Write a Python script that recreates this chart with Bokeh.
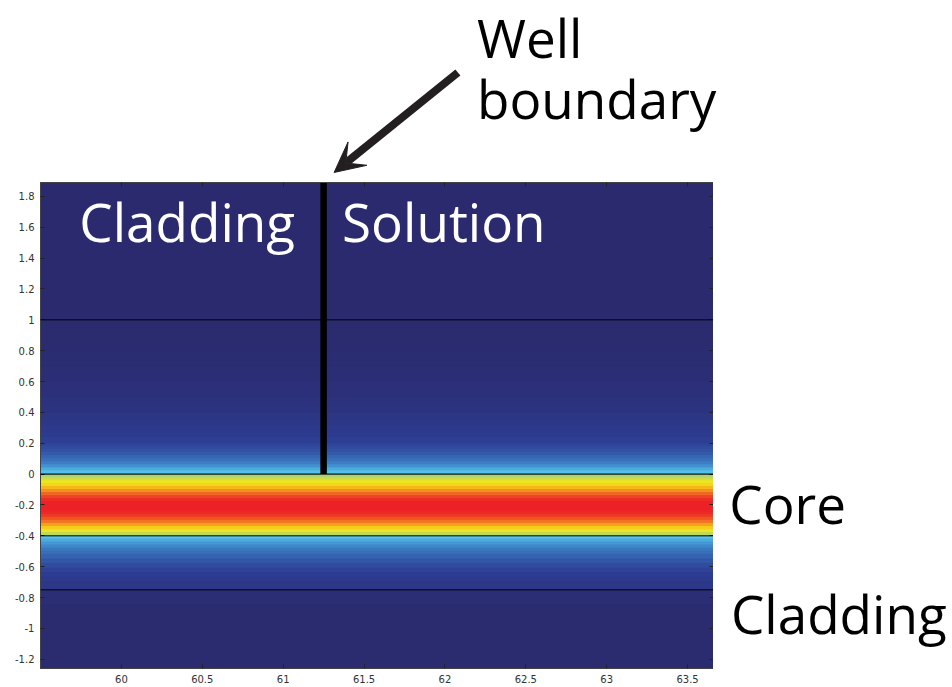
import numpy as np
from bokeh.plotting import figure
from bokeh.layouts import column, row
from bokeh.models import (Label, Arrow, VeeHead, LinearAxis, FixedTicker,
                          LinearColorMapper, ColumnDataSource, Range1d, Span)
from bokeh.transform import transform
from bokeh.embed import file_html
from bokeh.resources import INLINE

# Simulation window (um)
x_extent = [59.5, 63.66]
y_extent = [-1.26, 1.89]

# Layer interfaces: cladding/solution top, core top, core bottom, cladding bottom
interfaces = [1.0, 0.0, -0.4, -0.75]
well_x = 61.25

# Normalised mode intensity, one value per horizontal band between y_edges
y_edges = [1.89, 1.0, 0.8, 0.7, 0.6, 0.5, 0.44, 0.40, 0.36, 0.32, 0.28, 0.24,
           0.20, 0.18, 0.16, 0.14, 0.12, 0.10, 0.08, 0.06, 0.04, 0.02, 0.0,
           -0.02, -0.04, -0.06, -0.08, -0.10, -0.12, -0.14, -0.16, -0.18, -0.20,
           -0.22, -0.24, -0.26, -0.28, -0.30, -0.32, -0.34, -0.36, -0.38, -0.40,
           -0.42, -0.44, -0.46, -0.48, -0.50, -0.52, -0.55, -0.58, -0.61, -0.64,
           -0.67, -0.70, -0.75, -0.85, -1.26]
intensity = [0.0, 0.01, 0.02, 0.03, 0.045, 0.06, 0.07, 0.08, 0.09, 0.105, 0.12,
             0.14, 0.16, 0.175, 0.19, 0.21, 0.235, 0.26, 0.29, 0.33, 0.38, 0.42,
             0.55, 0.62, 0.69, 0.75, 0.81, 0.87, 0.92, 0.96, 0.985, 1.0,
             1.0, 1.0, 0.99, 0.97, 0.94, 0.90, 0.85, 0.77, 0.68, 0.60,
             0.43, 0.38, 0.34, 0.31, 0.28, 0.255, 0.23, 0.20, 0.175, 0.15,
             0.13, 0.11, 0.09, 0.03, 0.01]

x_ticks = [60, 60.5, 61, 61.5, 62, 62.5, 63, 63.5]
x_tick_labels = ["60", "60.5", "61", "61.5", "62", "62.5", "63", "63.5"]
y_ticks = [-1.2, -1.0, -0.8, -0.6, -0.4, -0.2, 0.0, 0.2, 0.4, 0.6, 0.8,
           1.0, 1.2, 1.4, 1.6, 1.8]
y_tick_labels = ["-1.2", "-1", "-0.8", "-0.6", "-0.4", "-0.2", "0", "0.2",
                 "0.4", "0.6", "0.8", "1", "1.2", "1.4", "1.6", "1.8"]

# Jet-like colour scale, print tones
anchors = ["#2b2a6e", "#2e3f95", "#3b7cc2", "#55c5ee", "#b3d568",
           "#f6eb16", "#f59d1e", "#ec2227"]

# Page geometry (pixels)
W, H = 952, 687
LEFT, RIGHT, TOP, BOTTOM = 40, 239, 182, 19
frame_w = W - LEFT - RIGHT
frame_h = H - TOP - BOTTOM
ux = frame_w / (x_extent[1] - x_extent[0])   # px per um, horizontal
uy = frame_h / (y_extent[1] - y_extent[0])   # px per um, vertical


def build_palette(hexes, n=256):
    rgb = np.array([[int(h[i:i + 2], 16) for i in (1, 3, 5)] for h in hexes], float)
    pos = np.linspace(0, 1, len(hexes))
    t = np.linspace(0, 1, n)
    chans = [np.interp(t, pos, rgb[:, k]) for k in range(3)]
    return ["#%02x%02x%02x" % tuple(int(round(c[i])) for c in chans) for i in range(n)]


mapper = LinearColorMapper(palette=build_palette(anchors), low=0.0, high=1.0)

bands = ColumnDataSource(dict(
    left=[x_extent[0]] * len(intensity),
    right=[x_extent[1]] * len(intensity),
    top=y_edges[:-1],
    bottom=y_edges[1:],
    field=intensity,
))

# --- main field plot -------------------------------------------------------
p = figure(width=LEFT + frame_w, height=frame_h + BOTTOM,
           output_backend="svg", toolbar_location=None,
           x_range=Range1d(*x_extent), y_range=Range1d(*y_extent),
           min_border=0, min_border_left=LEFT, min_border_bottom=BOTTOM,
           background_fill_color="#2b2a6e", border_fill_color="white",
           outline_line_color="#333333")
p.grid.visible = False

p.quad(left="left", right="right", top="top", bottom="bottom", source=bands,
       fill_color=transform("field", mapper),
       line_color=transform("field", mapper), line_width=1)

for yi in interfaces:
    p.add_layout(Span(location=yi, dimension="width", line_color="black",
                      line_alpha=0.65, line_width=1.6))

p.segment(x0=[well_x], y0=[interfaces[1]], x1=[well_x], y1=[y_extent[1]],
          line_color="black", line_width=6.5)


def style_axis(ax, labels):
    ax.major_tick_in = 4
    ax.major_tick_out = 0
    ax.minor_tick_in = 0
    ax.minor_tick_out = 0
    ax.axis_line_color = "#444444"
    ax.major_tick_line_color = "#222222"
    ax.major_label_text_font = "DejaVu Sans"
    ax.major_label_text_color = "#333333"
    if labels:
        ax.major_label_text_font_size = "10px"
        ax.major_label_standoff = 6
    else:
        ax.major_label_text_font_size = "0px"
        ax.major_label_standoff = 0


p.xaxis.ticker = FixedTicker(ticks=x_ticks)
p.yaxis.ticker = FixedTicker(ticks=y_ticks)
p.xaxis.major_label_overrides = dict(zip(x_ticks, x_tick_labels))
p.yaxis.major_label_overrides = dict(zip(y_ticks, y_tick_labels))
style_axis(p.xaxis[0], True)
style_axis(p.yaxis[0], True)

top_ax = LinearAxis(ticker=FixedTicker(ticks=x_ticks),
                    major_label_overrides={t: "" for t in x_ticks})
right_ax = LinearAxis(ticker=FixedTicker(ticks=y_ticks),
                      major_label_overrides={t: "" for t in y_ticks})
style_axis(top_ax, False)
style_axis(right_ax, False)
p.add_layout(top_ax, "above")
p.add_layout(right_ax, "right")

font = "Open Sans"
size = "53px"

for txt, lx in [("Cladding", 59.74), ("Solution", 61.364)]:
    p.add_layout(Label(x=lx, y=1.638, text=txt, text_font=font,
                       text_font_size=size, text_color="white",
                       text_align="left", text_baseline="alphabetic"))

# --- strip above: well boundary callout ------------------------------------
x_page = Range1d(x_extent[0] - LEFT / ux, x_extent[1] + RIGHT / ux)
top_fig = figure(width=W, height=TOP, output_backend="svg", toolbar_location=None,
                 x_range=x_page, y_range=Range1d(y_extent[1], y_extent[1] + TOP / uy),
                 min_border=0, outline_line_color=None, border_fill_color="white",
                 background_fill_color="white")
top_fig.axis.visible = False
top_fig.grid.visible = False
for txt, ly in [("Well", 2.830), ("boundary", 2.432)]:
    top_fig.add_layout(Label(x=62.198, y=ly, text=txt, text_font=font,
                             text_font_size=size, text_color="black",
                             text_align="left", text_baseline="alphabetic"))
top_fig.add_layout(Arrow(end=VeeHead(size=30, fill_color="#231f20",
                                     line_color="#231f20"),
                         x_start=62.08, y_start=2.603, x_end=61.315, y_end=1.955,
                         line_color="#231f20", line_width=8))

# --- strip at right: layer names -------------------------------------------
side = figure(width=RIGHT, height=frame_h + BOTTOM, output_backend="svg",
              toolbar_location=None,
              x_range=Range1d(x_extent[1], x_extent[1] + RIGHT / ux),
              y_range=Range1d(y_extent[0] - BOTTOM / uy, y_extent[1]),
              min_border=0, outline_line_color=None, border_fill_color="white",
              background_fill_color="white")
side.axis.visible = False
side.grid.visible = False
for txt, lx, ly in [("Core", 63.758, -0.275), ("Cladding", 63.768, -1.014)]:
    side.add_layout(Label(x=lx, y=ly, text=txt, text_font=font,
                          text_font_size=size, text_color="black",
                          text_align="left", text_baseline="alphabetic"))

page = column(top_fig, row(p, side, spacing=0), spacing=0)
open("out.html", "w").write(file_html(page, INLINE))
